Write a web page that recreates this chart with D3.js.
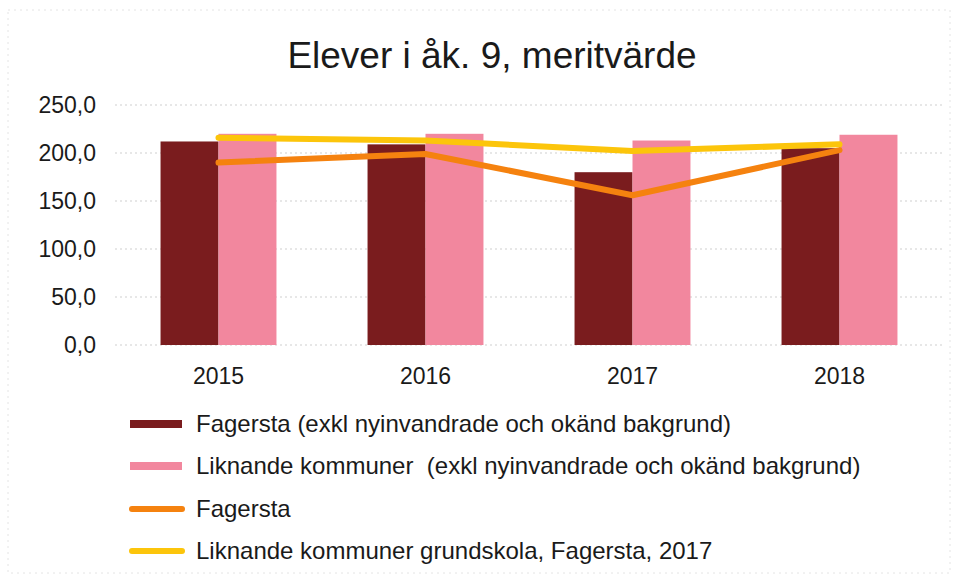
<!DOCTYPE html>
<html>
<head>
<meta charset="utf-8">
<script src="https://cdn.jsdelivr.net/npm/d3@7"></script>
<style>
  body { margin: 0; background: #fff; }
  text { font-family: "Liberation Sans", Arial, sans-serif; fill: #1a1a1a; white-space: pre; }
</style>
</head>
<body>
<div id="container"></div>
<script>
const W = 958;
const H = 577;

const years = ["2015", "2016", "2017", "2018"];
const fagerstaBars = [212, 209, 180, 205];
const liknandeBars = [220, 220, 213, 219];
const fagerstaLine = [190, 199, 156, 203];
const liknandeLine = [216, 213, 202, 209];
const yTicks = [0, 50, 100, 150, 200, 250];

const barSeries = [
    { name: "Fagersta (exkl nyinvandrade och okänd bakgrund)", values: fagerstaBars, color: "#7a1c1e" },
    { name: "Liknande kommuner  (exkl nyinvandrade och okänd bakgrund)", values: liknandeBars, color: "#f2879e" }
];
const lineSeries = [
    { name: "Fagersta", values: fagerstaLine, color: "#f5820f" },
    { name: "Liknande kommuner grundskola, Fagersta, 2017", values: liknandeLine, color: "#fcc50b" }
];

var drawChart = function () {
    var svg = d3.select("#container").append("svg")
        .attr("width", W)
        .attr("height", H);

    // faint scanned frame
    svg.append("rect")
        .attr("x", 8).attr("y", 10)
        .attr("width", W - 16).attr("height", H - 14)
        .attr("fill", "none")
        .attr("stroke", "#e4e4e4")
        .attr("stroke-dasharray", "2,4");

    var x = d3.scaleBand().domain(years).range([115, 943]).paddingInner(0.44).paddingOuter(0.22);
    var xSub = d3.scaleBand().domain(d3.range(barSeries.length)).range([0, x.bandwidth()]);
    var y = d3.scaleLinear().domain([0, 250]).range([345, 105]);

    svg.append("text")
        .attr("x", 492).attr("y", 68)
        .attr("text-anchor", "middle")
        .style("font-size", "37px")
        .text("Elever i åk. 9, meritvärde");

    // grid
    svg.append("g").selectAll("line")
        .data(yTicks)
        .join("line")
        .attr("x1", 115).attr("x2", 943)
        .attr("y1", d => y(d)).attr("y2", d => y(d))
        .attr("stroke", "#cfcfcf")
        .attr("stroke-dasharray", "2,3");

    var yAxis = svg.append("g")
        .attr("transform", "translate(96,0)")
        .call(d3.axisLeft(y).tickValues(yTicks).tickSize(0).tickPadding(0)
            .tickFormat(d => d3.format(".1f")(d).replace(".", ",")));
    yAxis.select(".domain").remove();
    yAxis.selectAll("text").style("font-size", "23px");

    var xAxis = svg.append("g")
        .attr("transform", "translate(0,345)")
        .call(d3.axisBottom(x).tickSize(0).tickPadding(23));
    xAxis.select(".domain").remove();
    xAxis.selectAll("text").style("font-size", "23px");

    // bars
    barSeries.forEach(function (s, i) {
        svg.append("g").selectAll("rect")
            .data(s.values)
            .join("rect")
            .attr("x", (d, j) => x(years[j]) + xSub(i))
            .attr("y", d => y(d))
            .attr("width", xSub.bandwidth())
            .attr("height", d => y(0) - y(d))
            .attr("fill", s.color);
    });

    // lines
    var line = d3.line()
        .x((d, j) => x(years[j]) + x.bandwidth() / 2)
        .y(d => y(d));
    lineSeries.forEach(function (s) {
        svg.append("path")
            .datum(s.values)
            .attr("d", line)
            .attr("fill", "none")
            .attr("stroke", s.color)
            .attr("stroke-width", 6)
            .attr("stroke-linecap", "round")
            .attr("stroke-linejoin", "round");
    });

    // legend
    var rows = [424, 466, 509, 551];
    var legend = svg.append("g");
    barSeries.forEach(function (s, i) {
        legend.append("rect")
            .attr("x", 130).attr("y", rows[i] - 4)
            .attr("width", 52).attr("height", 8)
            .attr("fill", s.color);
        legend.append("text")
            .attr("x", 196).attr("y", rows[i]).attr("dy", "0.35em")
            .style("font-size", "24px")
            .text(s.name);
    });
    lineSeries.forEach(function (s, i) {
        var r = rows[i + 2];
        legend.append("line")
            .attr("x1", 132).attr("x2", 182)
            .attr("y1", r).attr("y2", r)
            .attr("stroke", s.color)
            .attr("stroke-width", 6)
            .attr("stroke-linecap", "round");
        legend.append("text")
            .attr("x", 196).attr("y", r).attr("dy", "0.35em")
            .style("font-size", "24px")
            .text(s.name);
    });
};

window.onload = drawChart;
</script>
</body>
</html>
